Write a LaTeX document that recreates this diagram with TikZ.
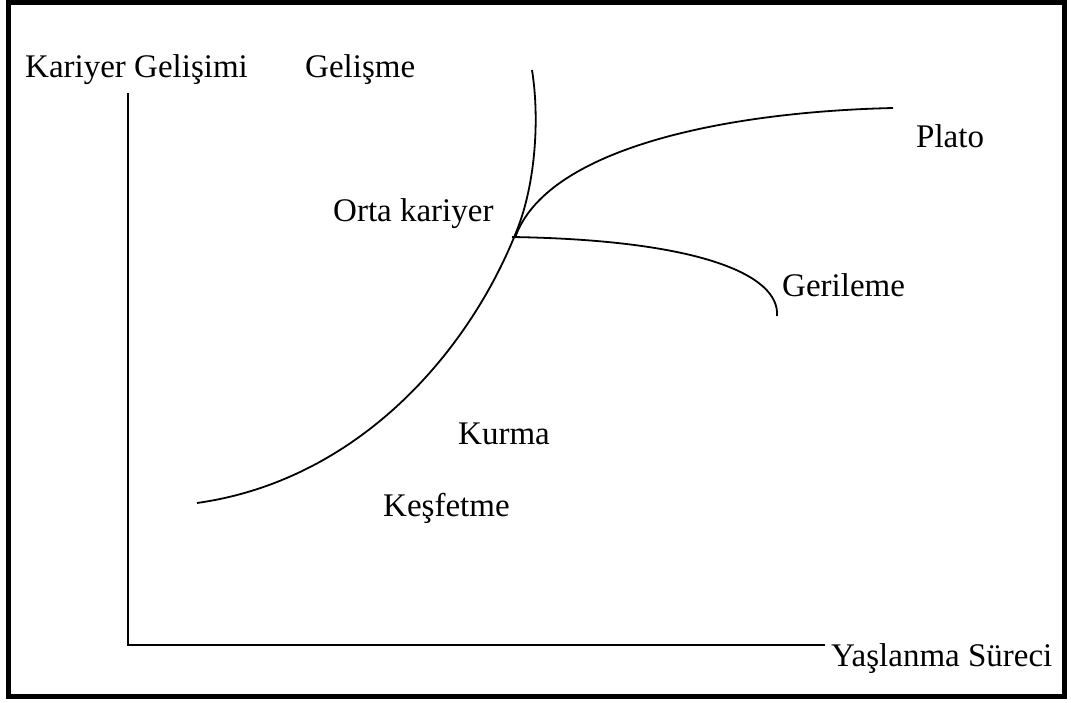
\documentclass[tikz,border=0pt]{standalone}
\usepackage{fontspec}
\setmainfont{Liberation Serif}
\begin{document}
\begin{tikzpicture}[x=1pt,y=-1pt,
  lbl/.style={anchor=base west,inner sep=0pt,font=\fontsize{33}{40}\selectfont},
  curve/.style={line width=1.8pt},
  axis/.style={line width=1.8pt}]
\useasboundingbox (0,0) rectangle (1071,702);
\draw[line width=5pt] (8.5,2) rectangle (1064.5,696.5);
% axes
\coordinate (top) at (128,93);
\coordinate (origin) at (128,645);
\coordinate (right) at (825,645);
\draw[axis] (top) -- (origin) -- (right);
% main curve
\coordinate (s) at (197,503);
\coordinate (m) at (517,230);
\coordinate (e) at (532,70);
\draw[curve] (s) .. controls (360,480) and (470,350) .. (m) .. controls (535,185) and (540,120) .. (e);
% plato
\coordinate (p0) at (515,238);
\coordinate (p1) at (893,108);
\draw[curve] (p0) .. controls (545,150) and (720,112) .. (p1);
% gerileme
\coordinate (g0) at (512,237);
\coordinate (g1) at (777,316);
\draw[curve] (g0) .. controls (700,240) and (780,275) .. (g1);
% labels
\node[lbl] (kg) at (25,77) {Kariyer Gelişimi};
\node[lbl] (gm) at (305,77) {Gelişme};
\node[lbl] (pl) at (916,147) {Plato};
\node[lbl] (ok) at (333,221) {Orta kariyer};
\node[lbl] (gr) at (782,296) {Gerileme};
\node[lbl] (ku) at (458,444) {Kurma};
\node[lbl] (ke) at (383,516) {Keşfetme};
\node[lbl] (ys) at (831,666) {Yaşlanma Süreci};
\end{tikzpicture}
\end{document}
